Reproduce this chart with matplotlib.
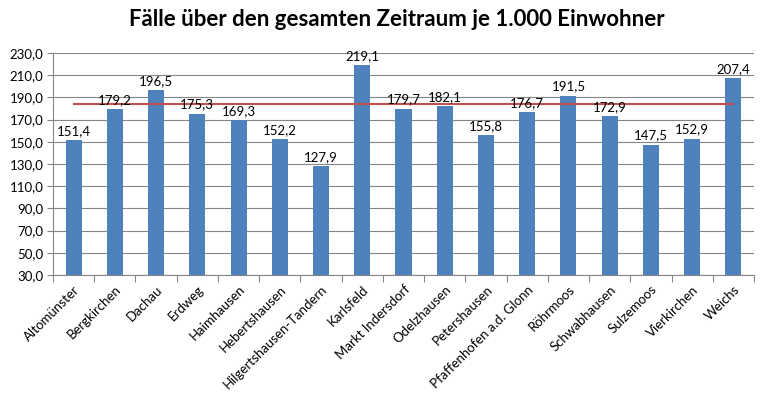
import matplotlib
matplotlib.use("Agg")
import matplotlib.pyplot as plt
import numpy as np

categories = ["Altomünster", "Bergkirchen", "Dachau", "Erdweg", "Haimhausen",
              "Hebertshausen", "Hilgertshausen-Tandern", "Karlsfeld", "Markt Indersdorf",
              "Odelzhausen", "Petershausen", "Pfaffenhofen a.d. Glonn", "Röhrmoos",
              "Schwabhausen", "Sulzemoos", "Vierkirchen", "Weichs"]
values = [151.4, 179.2, 196.5, 175.3, 169.3, 152.2, 127.9, 219.1, 179.7,
          182.1, 155.8, 176.7, 191.5, 172.9, 147.5, 152.9, 207.4]
average = 184.5
yticks = list(range(30, 231, 20))

plt.rcParams['font.family'] = ['Lato', 'DejaVu Sans']

fig = plt.figure(figsize=(7.66, 3.94), dpi=100)
ax = fig.add_axes([53/766, 1-275/394, (754-53)/766, (275-53)/394])

x = np.arange(len(categories))
ax.bar(x, [v - 30 for v in values], bottom=30, width=0.39, color='#4F81BD', zorder=3)
ax.plot([x[0], x[-1]], [average, average], color='#C0504D', lw=1.5, zorder=4)

for xi, v in zip(x, values):
    ax.text(xi, v + 3, f"{v:.1f}".replace('.', ','), ha='center', va='bottom',
            fontsize=9.5, color='black', zorder=5)

ax.set_xlim(-0.5, len(categories) - 0.5)
ax.set_ylim(30, 230)
ax.set_yticks(yticks)
ax.set_yticklabels([f"{t:.1f}".replace('.', ',') for t in yticks], fontsize=9.5)
ax.yaxis.grid(True, color='#868686', lw=0.8, zorder=0)
ax.set_axisbelow(True)

ax.set_xticks(x)
ax.set_xticklabels(categories, rotation=45, ha='right', rotation_mode='anchor', fontsize=9.5)
ax.tick_params(axis='x', length=0, pad=6)
ax.set_xticks(np.arange(-0.5, len(categories) + 0.5, 1), minor=True)
ax.tick_params(axis='x', which='minor', length=5, color='#868686', width=0.8)
ax.tick_params(axis='y', length=4, color='#868686', width=0.8, pad=3)

for s in ['top', 'right']:
    ax.spines[s].set_visible(False)
for s in ['left', 'bottom']:
    ax.spines[s].set_color('#868686')
    ax.spines[s].set_linewidth(0.8)

fig.text(397/766, 1-20/394, "Fälle über den gesamten Zeitraum je 1.000 Einwohner",
         ha='center', va='center', fontsize=16, fontweight='bold')

fig.savefig("out.png", dpi=100)
